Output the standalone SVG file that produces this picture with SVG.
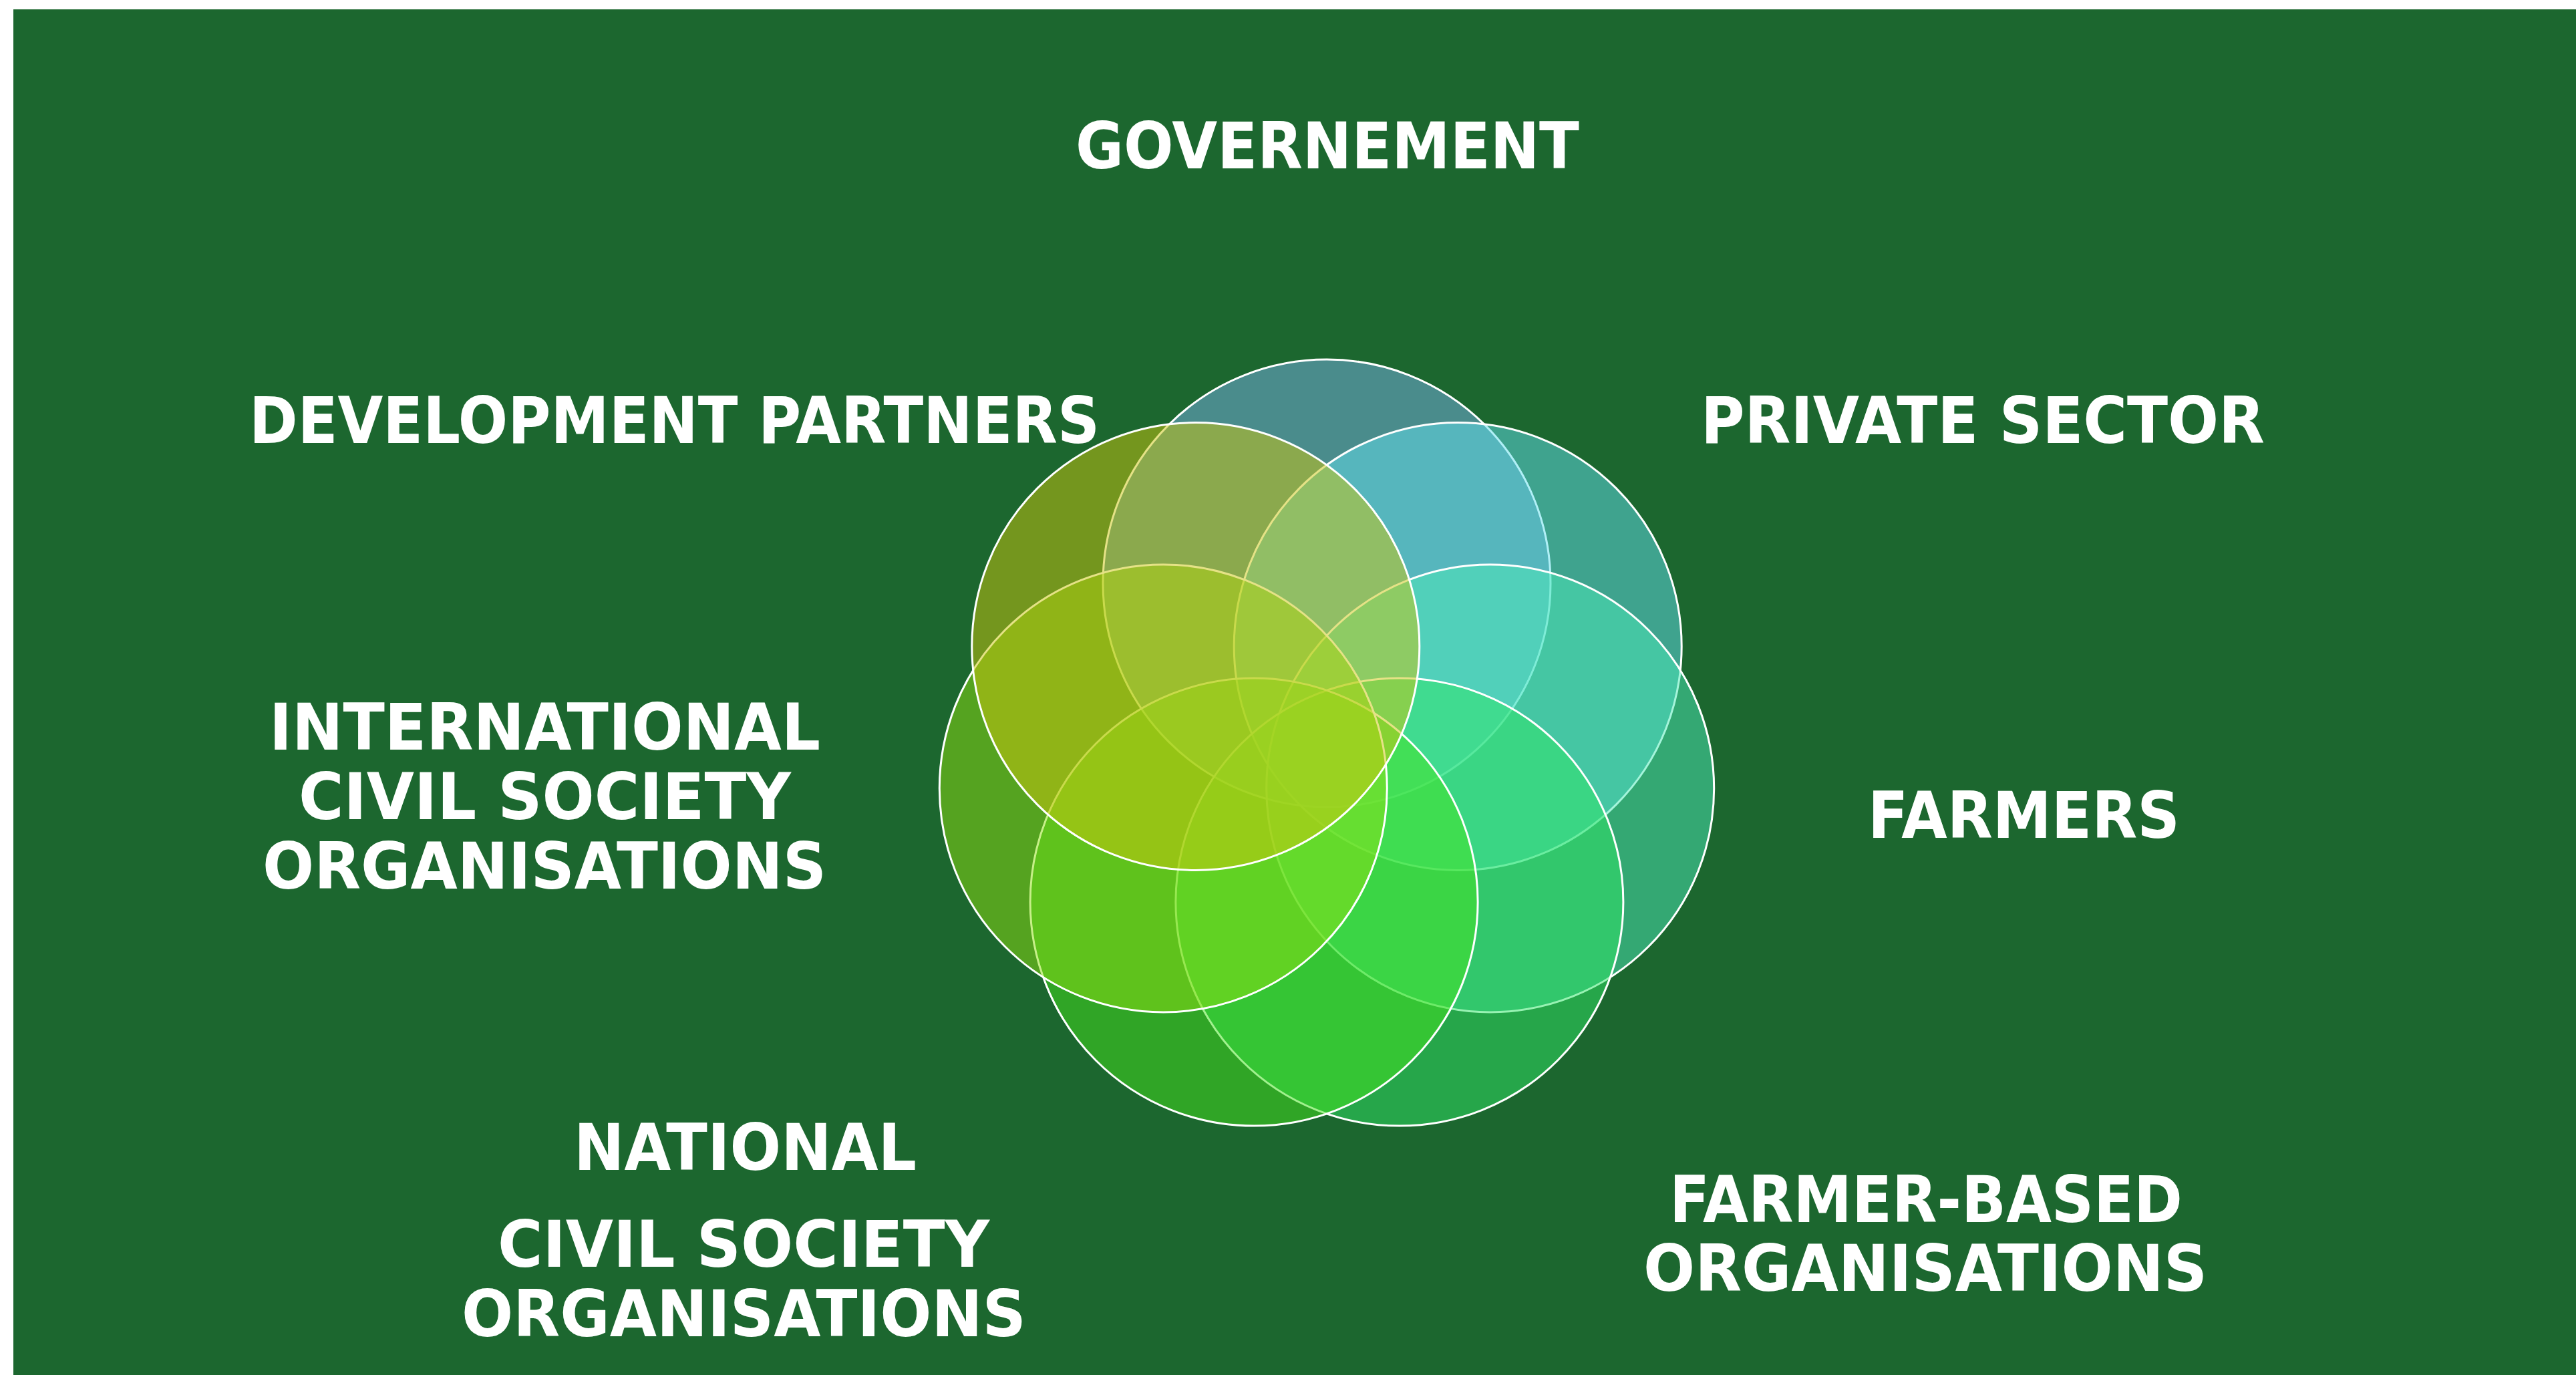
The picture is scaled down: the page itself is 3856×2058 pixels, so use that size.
<svg xmlns="http://www.w3.org/2000/svg" width="3856" height="2058" viewBox="0 0 3856 2058">
<style>
.c{fill-opacity:0.5;stroke:#ffffff;stroke-width:3}
.t{font-family:"DejaVu Sans","Verdana",sans-serif;font-weight:bold;font-size:96px;fill:#ffffff;text-anchor:middle}
</style>
<rect x="0" y="0" width="3856" height="2058" fill="#ffffff"/>
<rect x="20" y="14" width="3836" height="2044" fill="#1C672F"/>
<g id="connectors"/>
<g id="governement">
<circle class="c" cx="1986" cy="873" r="335" fill="#78B1E9"/>
<text class="t" x="1987" y="252" textLength="754" lengthAdjust="spacingAndGlyphs">GOVERNEMENT</text>
</g>
<g id="private-sector">
<circle class="c" cx="2182.2" cy="967.5" r="335" fill="#62DFED"/>
<text class="t" x="2968" y="663" textLength="844" lengthAdjust="spacingAndGlyphs">PRIVATE SECTOR</text>
</g>
<g id="farmers">
<circle class="c" cx="2230.7" cy="1179.9" r="335" fill="#4CE9B7"/>
<text class="t" x="3029.5" y="1254" textLength="467" lengthAdjust="spacingAndGlyphs">FARMERS</text>
</g>
<g id="farmer-based-organisations">
<circle class="c" cx="2094.9" cy="1350.1" r="335" fill="#30E565"/>
<text class="t" x="2883" y="1829" textLength="768" lengthAdjust="spacingAndGlyphs">FARMER-BASED</text>
<text class="t" x="2882" y="1932" textLength="844" lengthAdjust="spacingAndGlyphs">ORGANISATIONS</text>
</g>
<g id="national-civil-society-organisations">
<circle class="c" cx="1877.1" cy="1350.1" r="335" fill="#44E31D"/>
<text class="t" x="1115.5" y="1751" textLength="513" lengthAdjust="spacingAndGlyphs">NATIONAL</text>
<text class="t" x="1113" y="1896" textLength="736" lengthAdjust="spacingAndGlyphs">CIVIL SOCIETY</text>
<text class="t" x="1113.5" y="2000" textLength="845" lengthAdjust="spacingAndGlyphs">ORGANISATIONS</text>
</g>
<g id="international-civil-society-organisations">
<circle class="c" cx="1741.3" cy="1179.9" r="335" fill="#8EDF11"/>
<text class="t" x="815.5" y="1122" textLength="825" lengthAdjust="spacingAndGlyphs">INTERNATIONAL</text>
<text class="t" x="815.5" y="1226" textLength="737" lengthAdjust="spacingAndGlyphs">CIVIL SOCIETY</text>
<text class="t" x="815" y="1330" textLength="844" lengthAdjust="spacingAndGlyphs">ORGANISATIONS</text>
</g>
<g id="development-partners">
<circle class="c" cx="1789.8" cy="967.5" r="335" fill="#CCC50D"/>
<text class="t" x="1009.5" y="663" textLength="1273" lengthAdjust="spacingAndGlyphs">DEVELOPMENT PARTNERS</text>
</g>
</svg>
